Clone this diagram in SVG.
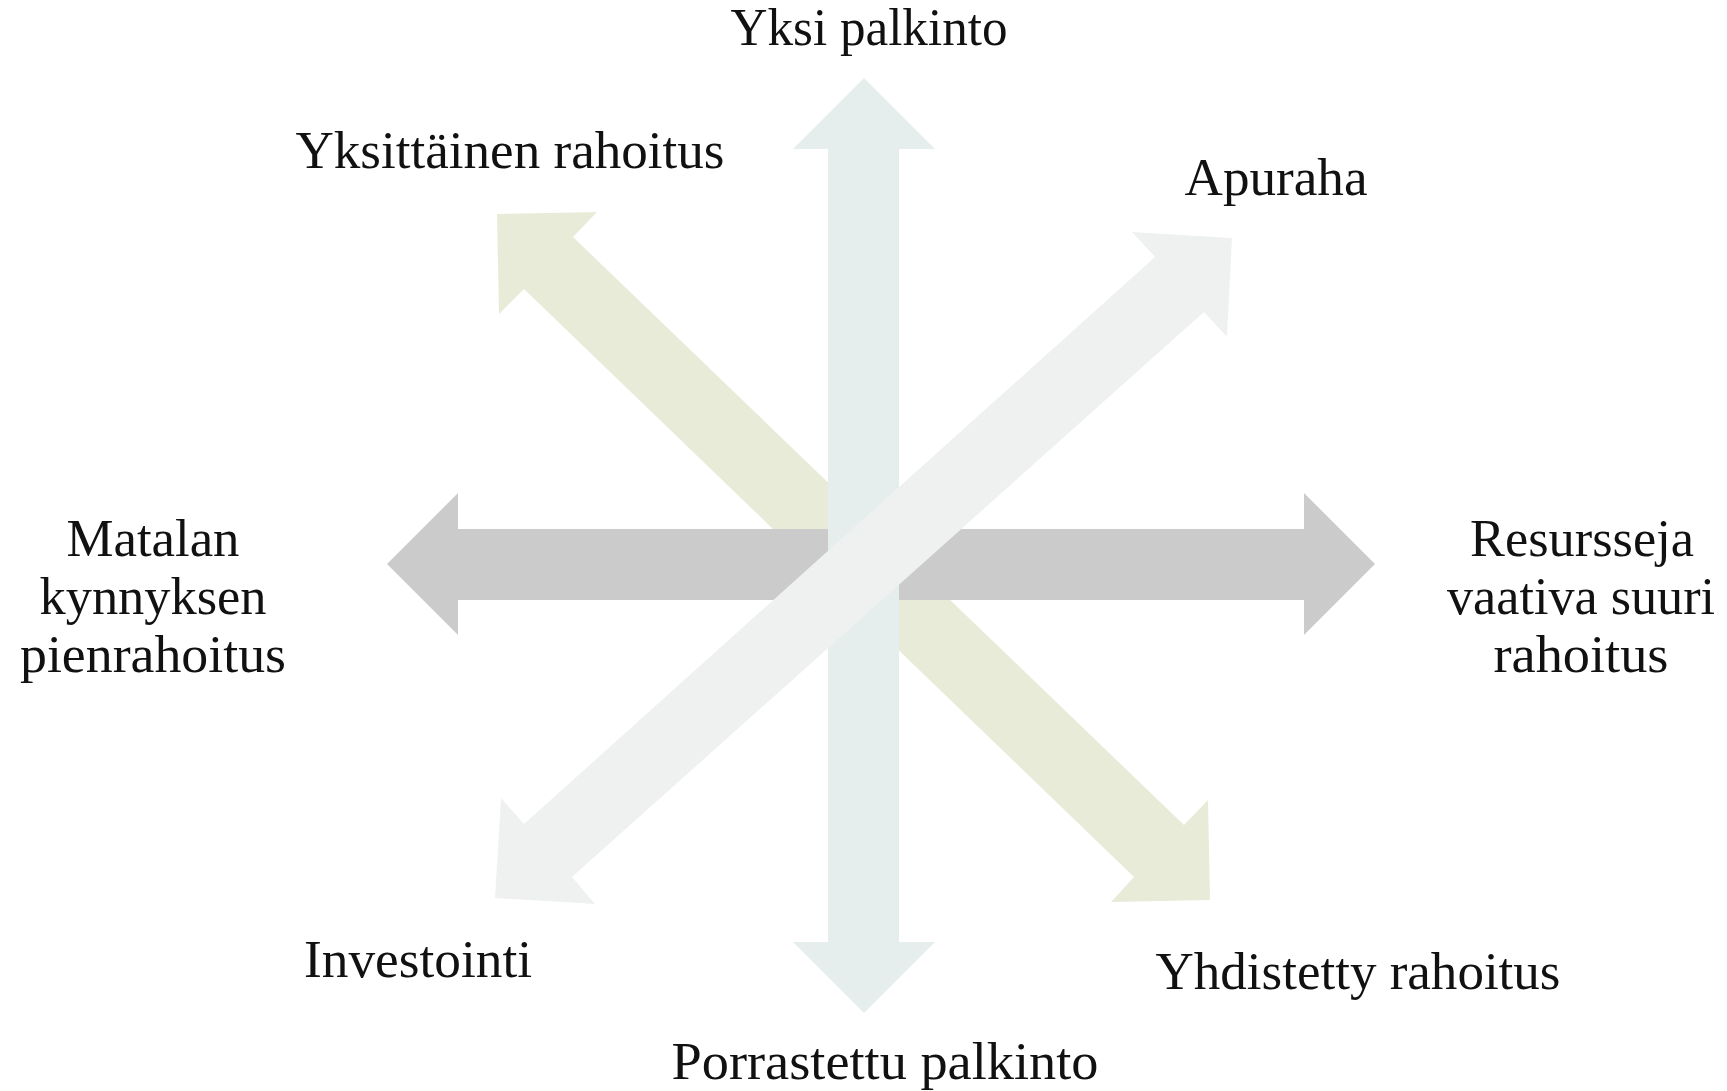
<svg xmlns="http://www.w3.org/2000/svg" width="1727" height="1091" viewBox="0 0 1727 1091">
<style>
.lbl{font-family:"Liberation Serif","DejaVu Serif",serif;font-size:52px;fill:#111;text-anchor:middle}
</style>
<rect width="1727" height="1091" fill="#ffffff"/>
<g id="connectors">
<polygon id="arrow-nw-se" fill="#E9EBD9" points="497,214 597,212 573,237 1184,825 1208,800 1210,900 1111,902 1134,877 524,289 499,314"/>
<polygon id="arrow-h" fill="#CBCBCB" points="387,564 458,493 458,529 1304,529 1304,493 1375,564 1304,635 1304,600 458,600 458,635"/>
<polygon id="arrow-v" fill="#E6EEED" points="864,78 935,149 899,149 899,942 935,942 864,1013 793,942 828,942 828,149 793,149"/>
<polygon id="arrow-ne-sw" fill="#EFF1F0" points="1232,238 1227,337 1204,312 572,877 595,904 495,898 501,798 524,824 1155,257 1132,232"/>
</g>
<g id="node-top"><text class="lbl" x="869" y="45" textLength="277" lengthAdjust="spacingAndGlyphs">Yksi palkinto</text></g>
<g id="node-nw"><text class="lbl" x="510" y="168" textLength="429" lengthAdjust="spacingAndGlyphs">Yksittäinen rahoitus</text></g>
<g id="node-ne"><text class="lbl" x="1276" y="195" textLength="183" lengthAdjust="spacingAndGlyphs">Apuraha</text></g>
<g id="node-w"><text class="lbl" x="153" y="556" textLength="173" lengthAdjust="spacingAndGlyphs">Matalan</text><text class="lbl" x="153" y="614" textLength="227" lengthAdjust="spacingAndGlyphs">kynnyksen</text><text class="lbl" x="153" y="672" textLength="266" lengthAdjust="spacingAndGlyphs">pienrahoitus</text></g>
<g id="node-e"><text class="lbl" x="1582" y="556" textLength="224" lengthAdjust="spacingAndGlyphs">Resursseja</text><text class="lbl" x="1581" y="614" textLength="268" lengthAdjust="spacingAndGlyphs">vaativa suuri</text><text class="lbl" x="1581" y="672" textLength="175" lengthAdjust="spacingAndGlyphs">rahoitus</text></g>
<g id="node-sw"><text class="lbl" x="418" y="977" textLength="228" lengthAdjust="spacingAndGlyphs">Investointi</text></g>
<g id="node-se"><text class="lbl" x="1358" y="989" textLength="405" lengthAdjust="spacingAndGlyphs">Yhdistetty rahoitus</text></g>
<g id="node-bottom"><text class="lbl" x="885" y="1079" textLength="427" lengthAdjust="spacingAndGlyphs">Porrastettu palkinto</text></g>
</svg>
